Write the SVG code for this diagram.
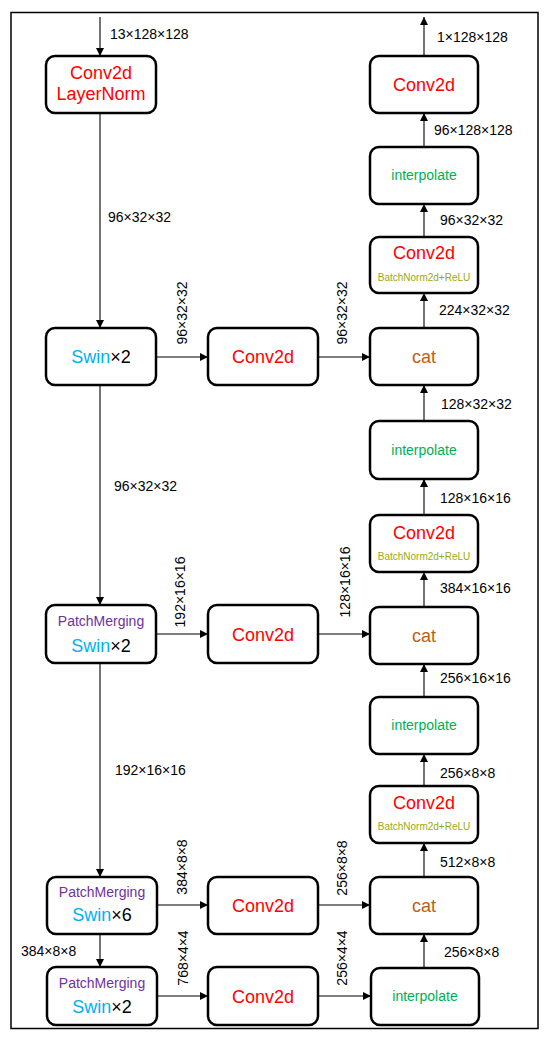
<svg xmlns="http://www.w3.org/2000/svg" width="550" height="1039" viewBox="0 0 550 1039">
<defs>
<marker id="ah" viewBox="0 0 10 10" refX="10" refY="5" markerWidth="8" markerHeight="8" markerUnits="userSpaceOnUse" orient="auto">
<path d="M0,0 L10,5 L0,10 z" fill="#000"/>
</marker>
</defs>
<style>
.box{fill:#fff;stroke:#000;stroke-width:2.5}
.c{fill:none;stroke:#000;stroke-width:1.1;marker-end:url(#ah)}
text{font-family:"Liberation Sans",Arial,sans-serif}
.lb{font-size:14px;fill:#000}
.big{font-size:18px;text-anchor:middle}
.red{fill:#ff0000}
.grn{fill:#00b050;font-size:14px;text-anchor:middle}
.bn{fill:#9aaa10;font-size:10px;text-anchor:middle}
.pm{fill:#7030a0;font-size:14px;text-anchor:middle}
.sw{fill:#00b0f0}
.cat{fill:#c0600e}
</style>
<rect x="11" y="12.5" width="527" height="1016" fill="#fff" stroke="#000" stroke-width="1.5"/>

<g id="connectors">
<line class="c" x1="100" y1="17" x2="100" y2="56"/>
<line class="c" x1="100" y1="113" x2="100" y2="328"/>
<line class="c" x1="100" y1="385" x2="100" y2="605"/>
<line class="c" x1="100" y1="663" x2="100" y2="877"/>
<line class="c" x1="100" y1="934" x2="100" y2="967"/>
<line class="c" x1="156" y1="357" x2="208" y2="357"/>
<line class="c" x1="156" y1="634" x2="208" y2="634"/>
<line class="c" x1="156" y1="905" x2="208" y2="905"/>
<line class="c" x1="156" y1="996" x2="208" y2="996"/>
<line class="c" x1="318" y1="357" x2="370" y2="357"/>
<line class="c" x1="318" y1="634" x2="370" y2="634"/>
<line class="c" x1="318" y1="905" x2="370" y2="905"/>
<line class="c" x1="318" y1="996" x2="371" y2="996"/>
<line class="c" x1="424" y1="968" x2="424" y2="934"/>
<line class="c" x1="424" y1="877" x2="424" y2="843"/>
<line class="c" x1="424" y1="786" x2="424" y2="754"/>
<line class="c" x1="424" y1="697" x2="424" y2="664"/>
<line class="c" x1="424" y1="607" x2="424" y2="572"/>
<line class="c" x1="424" y1="515" x2="424" y2="479"/>
<line class="c" x1="424" y1="421" x2="424" y2="385"/>
<line class="c" x1="424" y1="328" x2="424" y2="293"/>
<line class="c" x1="424" y1="237" x2="424" y2="204"/>
<line class="c" x1="424" y1="147" x2="424" y2="113"/>
<line class="c" x1="424" y1="56" x2="424" y2="17"/>
</g>

<g id="labels">
<text class="lb" x="110" y="39">13×128×128</text>
<text class="lb" x="108" y="222">96×32×32</text>
<text class="lb" x="114" y="491">96×32×32</text>
<text class="lb" x="115" y="775">192×16×16</text>
<text class="lb" x="21" y="956">384×8×8</text>
<text class="lb" x="437" y="42">1×128×128</text>
<text class="lb" x="434" y="135">96×128×128</text>
<text class="lb" x="440" y="225">96×32×32</text>
<text class="lb" x="439" y="315">224×32×32</text>
<text class="lb" x="441" y="409">128×32×32</text>
<text class="lb" x="440" y="503">128×16×16</text>
<text class="lb" x="440" y="593">384×16×16</text>
<text class="lb" x="440" y="683">256×16×16</text>
<text class="lb" x="440" y="778">256×8×8</text>
<text class="lb" x="440" y="867">512×8×8</text>
<text class="lb" x="444" y="957">256×8×8</text>
<text class="lb" text-anchor="middle" transform="translate(187,313) rotate(-90)">96×32×32</text>
<text class="lb" text-anchor="middle" transform="translate(185,592) rotate(-90)">192×16×16</text>
<text class="lb" text-anchor="middle" transform="translate(187,867) rotate(-90)">384×8×8</text>
<text class="lb" text-anchor="middle" transform="translate(188,958) rotate(-90)">768×4×4</text>
<text class="lb" text-anchor="middle" transform="translate(347,313) rotate(-90)">96×32×32</text>
<text class="lb" text-anchor="middle" transform="translate(350,582) rotate(-90)">128×16×16</text>
<text class="lb" text-anchor="middle" transform="translate(347,868) rotate(-90)">256×8×8</text>
<text class="lb" text-anchor="middle" transform="translate(347,958) rotate(-90)">256×4×4</text>
</g>

<g id="n_conv_ln">
<rect class="box" x="46" y="56" width="110" height="57" rx="9"/>
<text class="big red" x="101" y="79">Conv2d</text>
<text class="big red" x="101" y="100">LayerNorm</text>
</g>
<g id="n_swin1">
<rect class="box" x="46" y="328" width="110" height="57" rx="9"/>
<text class="big" x="101" y="363"><tspan class="sw">Swin</tspan>×2</text>
</g>
<g id="n_swin2">
<rect class="box" x="46" y="605" width="110" height="58" rx="9"/>
<text class="pm" x="101" y="626">PatchMerging</text>
<text class="big" x="101" y="652"><tspan class="sw">Swin</tspan>×2</text>
</g>
<g id="n_swin3">
<rect class="box" x="47" y="877" width="110" height="57" rx="9"/>
<text class="pm" x="102" y="897">PatchMerging</text>
<text class="big" x="102" y="921"><tspan class="sw">Swin</tspan>×6</text>
</g>
<g id="n_swin4">
<rect class="box" x="47" y="967" width="110" height="58" rx="9"/>
<text class="pm" x="102" y="988">PatchMerging</text>
<text class="big" x="102" y="1013"><tspan class="sw">Swin</tspan>×2</text>
</g>

<g id="n_mconv1">
<rect class="box" x="208" y="328" width="110" height="57" rx="9"/>
<text class="big red" x="263" y="363">Conv2d</text>
</g>
<g id="n_mconv2">
<rect class="box" x="208" y="605" width="110" height="58" rx="9"/>
<text class="big red" x="263" y="641">Conv2d</text>
</g>
<g id="n_mconv3">
<rect class="box" x="208" y="877" width="110" height="57" rx="9"/>
<text class="big red" x="263" y="912">Conv2d</text>
</g>
<g id="n_mconv4">
<rect class="box" x="208" y="967" width="110" height="58" rx="9"/>
<text class="big red" x="263" y="1003">Conv2d</text>
</g>

<g id="n_out_conv">
<rect class="box" x="370" y="56" width="108" height="57" rx="9"/>
<text class="big red" x="424" y="91">Conv2d</text>
</g>
<g id="n_interp1">
<rect class="box" x="370" y="147" width="108" height="57" rx="9"/>
<text class="grn" x="424" y="180">interpolate</text>
</g>
<g id="n_cbn1">
<rect class="box" x="370" y="237" width="108" height="56" rx="9"/>
<text class="big red" x="424" y="259">Conv2d</text>
<text class="bn" x="424" y="281">BatchNorm2d+ReLU</text>
</g>
<g id="n_cat1">
<rect class="box" x="370" y="328" width="108" height="57" rx="9"/>
<text class="big cat" x="424" y="363">cat</text>
</g>
<g id="n_interp2">
<rect class="box" x="370" y="421" width="108" height="58" rx="9"/>
<text class="grn" x="424" y="455">interpolate</text>
</g>
<g id="n_cbn2">
<rect class="box" x="370" y="515" width="108" height="57" rx="9"/>
<text class="big red" x="424" y="539">Conv2d</text>
<text class="bn" x="424" y="560">BatchNorm2d+ReLU</text>
</g>
<g id="n_cat2">
<rect class="box" x="370" y="607" width="108" height="57" rx="9"/>
<text class="big cat" x="424" y="642">cat</text>
</g>
<g id="n_interp3">
<rect class="box" x="370" y="697" width="108" height="57" rx="9"/>
<text class="grn" x="424" y="730">interpolate</text>
</g>
<g id="n_cbn3">
<rect class="box" x="370" y="786" width="108" height="57" rx="9"/>
<text class="big red" x="424" y="809">Conv2d</text>
<text class="bn" x="424" y="830">BatchNorm2d+ReLU</text>
</g>
<g id="n_cat3">
<rect class="box" x="370" y="877" width="108" height="57" rx="9"/>
<text class="big cat" x="424" y="912">cat</text>
</g>
<g id="n_interp4">
<rect class="box" x="371" y="968" width="108" height="57" rx="9"/>
<text class="grn" x="425" y="1001">interpolate</text>
</g>
</svg>
